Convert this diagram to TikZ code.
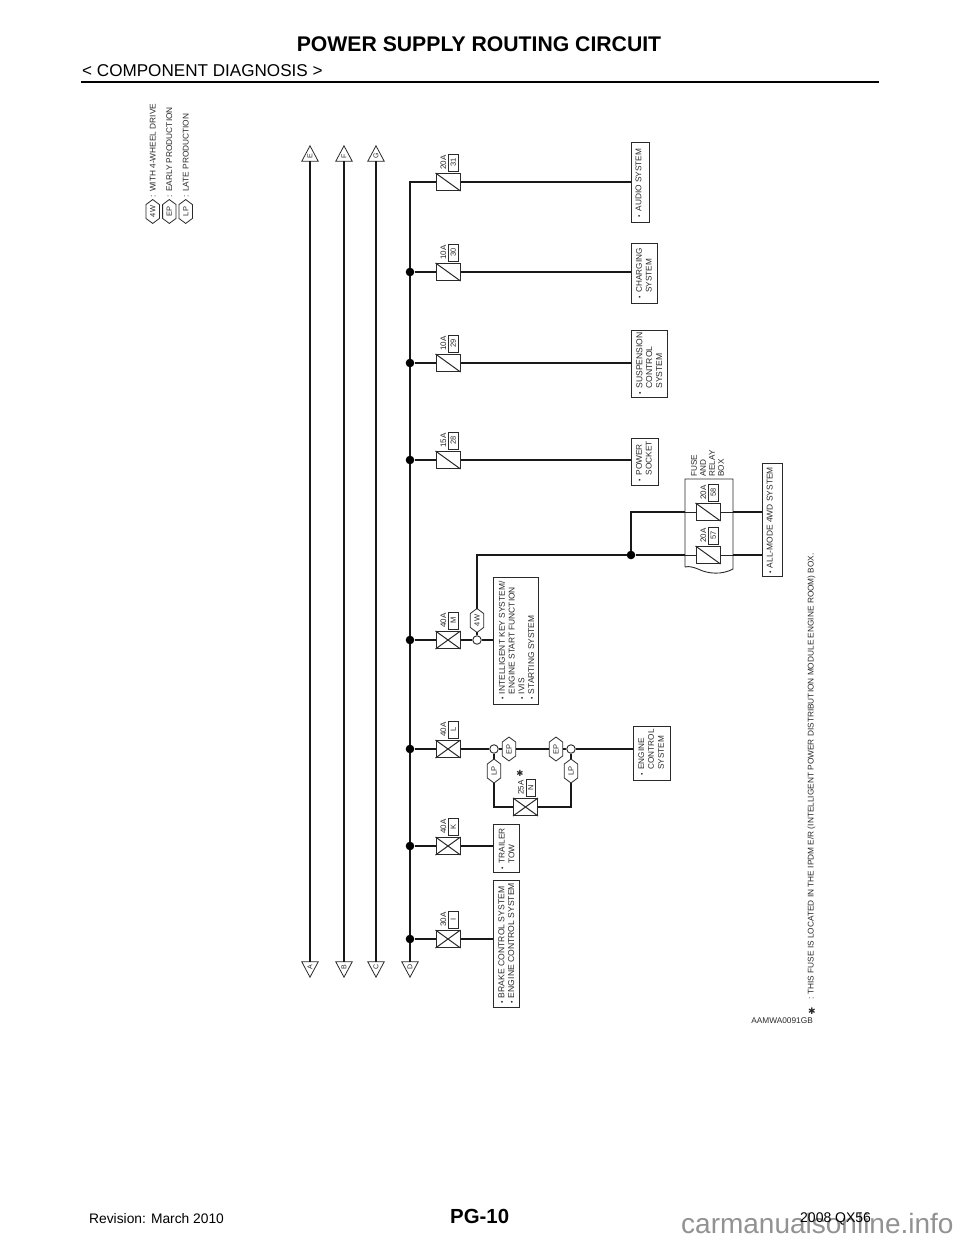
\documentclass[tikz,border=0pt]{standalone}
\usepackage{fontspec}
\setmainfont{Liberation Sans}
\newfontfamily\djv{DejaVu Sans}
\usepackage{graphicx}
\definecolor{ink}{HTML}{2A2A2A}
\definecolor{wm}{HTML}{929292}
\newcommand\fsz[1]{\fontsize{#1}{#1}\selectfont}
\newcommand\bu{\makebox[5.5pt][l]{\scalebox{.8}{\textbullet}}}
\newcommand\ind{\hspace*{5.5pt}}
\tikzset{
  x=1pt,y=-1pt,
  wire/.style={line width=2pt,black!90,line join=miter},
  thinwire/.style={line width=1pt,black!85},
  outline/.style={line width=1pt,ink},
  fusebody/.style={draw=ink,line width=1pt,minimum width=24pt,minimum height=17pt,inner sep=0pt},
  numbox/.style={draw=ink,line width=.8pt,minimum width=9.5pt,minimum height=17pt,inner sep=0pt,text=ink,font=\fsz{7.5}},
  amp/.style={inner sep=0pt,text=ink,font=\fsz{8}},
  jdot/.style={circle,fill=black,inner sep=0pt,minimum size=8.6pt},
  ring/.style={circle,draw=ink,line width=.9pt,fill=white,inner sep=0pt,minimum size=8.5pt},
  sysboxstyle/.style={draw=ink,line width=1pt,inner sep=0pt,text=ink},
  hexbox/.style={inner sep=0pt,minimum width=13pt,minimum height=23.5pt,text=ink,font=\fsz{7.5}},
  tribox/.style={inner sep=0pt,minimum width=16pt,minimum height=15pt},
  trilabel/.style={inner sep=0pt,text=ink,font=\fsz{7}},
  rotlabel/.style={inner sep=0pt,text=ink,font=\fsz{8.3},rotate=90,anchor=west},
}
% name, x, y, amp, number
\newcommand\fuseS[5]{%
  \node[fusebody] (#1) at (#2,#3) {};
  \draw[outline] (#1.north west) -- (#1.south east);
  \node[amp] (#1amp) at ([shift={(-4.7,-19.5)}]#1.center) {\rotatebox{90}{#4}};
  \node[numbox] (#1num) at ([shift={(5.3,-19.5)}]#1.center) {\rotatebox{90}{#5}};
}
\newcommand\fuseX[5]{%
  \fuseS{#1}{#2}{#3}{#4}{#5}
  \draw[outline] (#1.south west) -- (#1.north east);
}
% name, cx, cy, w, h, margin, font size, shift to the right, text
\newcommand\sysbox[9]{%
  \node[sysboxstyle,minimum width=#4pt,minimum height=#5pt] (#1) at (#2,#3)
   {\rotatebox{90}{\raisebox{-#8pt}[0pt][0pt]{\makebox[#5pt][l]{\hspace*{#6pt}\fontsize{#7}{9.8}\selectfont\begin{tabular}[c]{@{}l@{}}#9\end{tabular}}}}};
}
% name, x, y, text
\newcommand\hexn[4]{%
  \node[hexbox] (#1) at (#2,#3) {\rotatebox{90}{#4}};
  \draw[outline,line width=.8pt] (#1.north) -- ([yshift=-5pt]#1.north east) -- ([yshift=5pt]#1.south east)
    -- (#1.south) -- ([yshift=5pt]#1.south west) -- ([yshift=-5pt]#1.north west) -- cycle;
}
\newcommand\triup[3]{%
  \node[tribox] (t#1) at (#2,#3) {};
  \draw[outline,line width=.8pt] (t#1.north) -- (t#1.south east) -- (t#1.south west) -- cycle;
  \node[trilabel] (l#1) at ([yshift=-2.5pt]t#1.center) {\rotatebox{90}{#1}};
}
\newcommand\tridown[3]{%
  \node[tribox] (t#1) at (#2,#3) {};
  \draw[outline,line width=.8pt] (t#1.south) -- (t#1.north east) -- (t#1.north west) -- cycle;
  \node[trilabel] (l#1) at ([yshift=2.5pt]t#1.center) {\rotatebox{90}{#1}};
}
\begin{document}
\begin{tikzpicture}
\useasboundingbox (0,0) rectangle (960,1242);
\fill[white] (0,0) rectangle (960,1242);

% header
\node[inner sep=0pt,font=\fsz{21.2}\bfseries] (title) at (479,44) {POWER SUPPLY ROUTING CIRCUIT};
\node[inner sep=0pt,anchor=base west,font=\fsz{17.1}] (sub) at (82,76) {< COMPONENT DIAGNOSIS >};
\coordinate (ruleL) at (81,82);
\coordinate (ruleR) at (879,82);
\draw[line width=2.4pt] (ruleL) -- (ruleR);

% footer
\node[inner sep=0pt,anchor=base west,text=wm,font=\fsz{28}] (wmark) at (681,1233) {carmanualsonline.info};
\node[inner sep=0pt,anchor=base west,font=\fsz{13.8}] (rev) at (89,1223) {Revision: March 2010};
\node[inner sep=0pt,anchor=base west,font=\fsz{20.4}\bfseries] (pg) at (450,1223) {PG-10};
\node[inner sep=0pt,anchor=base west,font=\fsz{14}] (model) at (800,1222) {2008 QX56};

% legend
\hexn{h4w}{152.7}{211.5}{4W}
\hexn{hep}{169.3}{211.5}{EP}
\hexn{hlp}{185.7}{211.5}{LP}
\node[rotlabel] (t4w) at (152.7,197.5) {: WITH 4-WHEEL DRIVE};
\node[rotlabel] (tep) at (169.3,197.5) {: EARLY PRODUCTION};
\node[rotlabel] (tlp) at (185.7,197.5) {: LATE PRODUCTION};

% connectors triangles
\triup{E}{310}{153.5}
\triup{F}{344}{153.5}
\triup{G}{376}{153.5}
\tridown{A}{310}{969.5}
\tridown{B}{344}{969.5}
\tridown{C}{376}{969.5}
\tridown{D}{410}{969.5}
\draw[wire] (tE.south) -- (tA.north);
\draw[wire] (tF.south) -- (tB.north);
\draw[wire] (tG.south) -- (tC.north);

% fuses
\fuseS{f31}{448}{182}{20A}{31}
\fuseS{f30}{448}{272}{10A}{30}
\fuseS{f29}{448}{363}{10A}{29}
\fuseS{f28}{448}{460}{15A}{28}
\fuseX{fM}{448}{640}{40A}{M}
\fuseX{fL}{448}{749}{40A}{L}
\fuseX{fK}{448}{846}{40A}{K}
\fuseX{fI}{448}{939}{30A}{I}
\fuseX{fN}{525.5}{807}{25A}{N}
\fuseS{f58}{708}{512}{20A}{58}
\fuseS{f57}{708}{555}{20A}{57}

% bus
\coordinate (b0) at (410,182);
\draw[wire] (f31.west) -- (b0) -- (tD.north);
\foreach \n/\y/\f in {j30/272/f30,j29/363/f29,j28/460/f28,jM/640/fM,jL/749/fL,jK/846/fK,jI/939/fI}{
  \node[jdot] (\n) at (410,\y) {};
  \draw[wire] (\n) -- (\f.west);
}

% system boxes
\sysbox{sAudio}{640}{182}{18}{80}{5}{8.3}{1.5}{\bu AUDIO SYSTEM}
\sysbox{sCharge}{644.25}{273}{26.5}{60}{5}{8.2}{2.5}{\bu CHARGING\\\ind SYSTEM}
\sysbox{sSusp}{649}{363.5}{36}{67}{3}{8.6}{3.5}{\bu SUSPENSION\\\ind CONTROL\\\ind SYSTEM}
\sysbox{sPower}{644.75}{461.5}{27.5}{47}{4}{8.3}{2}{\bu POWER\\\ind SOCKET}
\sysbox{sKey}{515.5}{640.5}{45}{127}{4.5}{8.4}{4}{\bu INTELLIGENT KEY SYSTEM/\\\ind ENGINE START FUNCTION\\\bu IVIS\\\bu STARTING SYSTEM}
\sysbox{sEng}{651.5}{753}{37}{54}{5}{8.2}{2.5}{\bu ENGINE\\\ind CONTROL\\\ind SYSTEM}
\sysbox{sTrail}{506}{848}{26}{48}{3}{8.3}{3.5}{\bu TRAILER\\\ind TOW}
\sysbox{sBrake}{506}{943.5}{26}{127}{3.5}{8.6}{3.5}{\bu BRAKE CONTROL SYSTEM\\\bu ENGINE CONTROL SYSTEM}
\sysbox{sAll}{772}{519.5}{20}{113}{2.5}{8.4}{.7}{\bu ALL-MODE 4WD SYSTEM}

% simple branches
\draw[wire] (f31.east) -- (sAudio.west |- f31);
\draw[wire] (f30.east) -- (sCharge.west |- f30);
\draw[wire] (f29.east) -- (sSusp.west |- f29);
\draw[wire] (f28.east) -- (sPower.west |- f28);
\draw[wire] (fK.east) -- (sTrail.west |- fK);
\draw[wire] (fI.east) -- (sBrake.west |- fI);

% M branch
\node[ring] (cM) at (477,640) {};
\hexn{h4wM}{477}{620.5}{4W}
\draw[wire] (fM.east) -- (cM.west);
\draw[wire] (cM.east) -- (sKey.west |- cM);
\draw[wire] (cM.north) -- (h4wM.south);
\node[jdot] (jBox) at (631,555) {};
\coordinate (cornerM) at (477,555);
\coordinate (corner58) at (631,512);
\draw[wire] (h4wM.north) -- (cornerM) -- (jBox);

% fuse and relay box
\coordinate (boxTL) at (685,479);
\coordinate (boxTR) at (733,479);
\coordinate (boxBL) at (685,567);
\coordinate (boxBR) at (733,569);
\draw[outline,line width=.9pt] (boxBL) -- (boxTL) -- (boxTR) -- (boxBR)
   .. controls (722,575) and (708,574) .. (698,569) .. controls (693,567) and (689,566) .. (boxBL);
\node[inner sep=0pt,text=ink,anchor=north west,rotate=90] (boxlab) at (691,477)
   {\parbox{30pt}{\fontsize{8.2}{9}\selectfont FUSE\\AND\\RELAY\\BOX}};
\coordinate (in58) at (boxTL |- f58);
\coordinate (in57) at (boxTL |- f57);
\coordinate (out58) at (boxTR |- f58);
\coordinate (out57) at (boxTR |- f57);
\draw[wire] (jBox) -- (corner58) -- (in58);
\draw[wire] (jBox) -- (in57);
\draw[thinwire] (in58) -- (f58.west);
\draw[thinwire] (in57) -- (f57.west);
\draw[thinwire] (f58.east) -- (out58);
\draw[thinwire] (f57.east) -- (out57);
\draw[wire] (out58) -- (sAll.west |- f58);
\draw[wire] (out57) -- (sAll.west |- f57);

% L branch
\node[ring] (c1) at (494,749) {};
\node[ring] (c2) at (571,749) {};
\hexn{ep1}{509}{749}{EP}
\hexn{ep2}{556}{749}{EP}
\hexn{lp1}{494}{771}{LP}
\hexn{lp2}{571}{771}{LP}
\draw[wire] (fL.east) -- (c1.west);
\draw[wire] (c1.east) -- (ep1.west);
\draw[wire] (ep1.east) -- (ep2.west);
\draw[wire] (ep2.east) -- (c2.west);
\draw[wire] (c2.east) -- (sEng.west |- c2);
\draw[wire] (c1.south) -- (lp1.north);
\draw[wire] (c2.south) -- (lp2.north);
\draw[wire] (lp1.south) |- (fN.west);
\draw[wire] (lp2.south) |- (fN.east);
\node[inner sep=0pt,font=\djv\fsz{8.5},text=ink] (starN) at (520,773) {✱};

% footnote
\node[inner sep=0pt,font=\djv\fsz{9},text=ink] (starF) at (812,1011) {✱};
\node[rotlabel] (note) at (811.5,1000) {: THIS FUSE IS LOCATED IN THE IPDM E/R (INTELLIGENT POWER DISTRIBUTION MODULE ENGINE ROOM) BOX.};
\node[inner sep=0pt,text=ink,font=\fsz{8.3},anchor=east] (code) at (813,1021) {AAMWA0091GB};
\end{tikzpicture}
\end{document}
